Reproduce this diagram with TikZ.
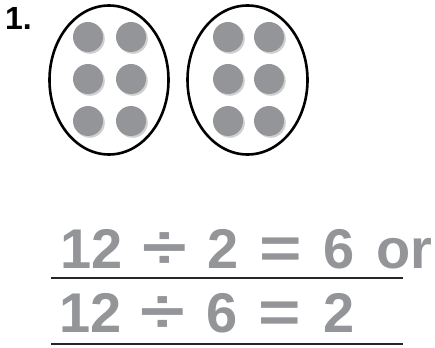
\documentclass[tikz,border=0pt]{standalone}
\usepackage{fontspec}
\setmainfont{Liberation Sans}
\definecolor{dotgray}{HTML}{939598}
\definecolor{shadowgray}{HTML}{CFCFD0}
\definecolor{textgray}{HTML}{939598}
\newcommand{\divsign}{\scalebox{1.45}[1.1]{÷}}
\newcommand{\eqsign}{\scalebox{1.3}[1.05]{=}}
\begin{document}
\begin{tikzpicture}[x=1pt,y=-1pt,
  ring/.style={draw=black,line width=2.6pt},
  counter/.style={fill=dotgray},
  shade/.style={fill=shadowgray},
  eq/.style={inner sep=0pt,anchor=base,text=textgray,font=\fontsize{56}{60}\selectfont\bfseries},
  rule/.style={line width=2.2pt,black!85}]
\useasboundingbox (0,0) rectangle (435,347);
\node[inner sep=0pt,anchor=base west,font=\fontsize{32}{34}\selectfont\bfseries] (num) at (5,30) {1.};
% ellipses
\draw[ring] (109,80) ellipse [x radius=59.5, y radius=74.5];
\draw[ring] (247.5,80) ellipse [x radius=60, y radius=74.5];
% counters
\foreach \cx in {88,131,228,269}{
  \foreach \cy in {37,79,121}{
    \fill[shade] (\cx+1.8,\cy+1.8) circle (15);
    \fill[counter] (\cx,\cy) circle (15);
  }
}
% equation row 1
\node[eq] (a1) at (91.5,268) {12};
\node[eq] (a2) at (164.5,268) {\divsign};
\node[eq] (a3) at (223,268) {2};
\node[eq] (a4) at (281,268) {\eqsign};
\node[eq] (a5) at (339.5,268) {6};
\node[eq] (a6) at (404,268) {or};
% equation row 2
\node[eq] (b1) at (90.5,332) {12};
\node[eq] (b2) at (163,332) {\divsign};
\node[eq] (b3) at (222,332) {6};
\node[eq] (b4) at (280,332) {\eqsign};
\node[eq] (b5) at (339,332) {2};
% answer lines
\coordinate (l1a) at (51,278); \coordinate (l1b) at (403,278);
\coordinate (l2a) at (51,344); \coordinate (l2b) at (403,344);
\draw[rule] (l1a) -- (l1b);
\draw[rule] (l2a) -- (l2b);
\end{tikzpicture}
\end{document}
